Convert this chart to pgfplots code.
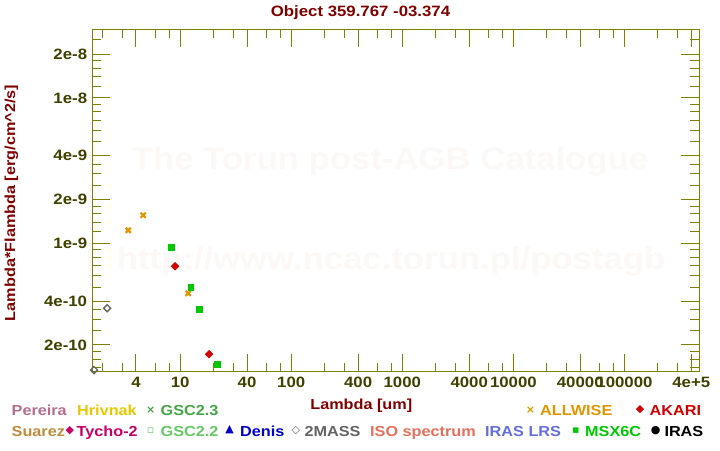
\documentclass[border=0pt]{standalone}
\usepackage{fontspec}
\setmainfont{Liberation Sans}[FakeStretch=1.12]
\newfontfamily\symfont{DejaVu Sans}
\usepackage{pgfplots}
\pgfplotsset{compat=1.18}
\definecolor{axcol}{RGB}{128,128,0}
\definecolor{tickcol}{RGB}{64,64,0}
\definecolor{titlecol}{RGB}{128,0,0}
\definecolor{wmcol}{RGB}{251,248,245}
\definecolor{cPereira}{RGB}{180,110,140}
\definecolor{cHrivnak}{RGB}{230,200,0}
\definecolor{cGSCa}{RGB}{70,165,70}
\definecolor{cSuarez}{RGB}{190,140,60}
\definecolor{cTycho}{RGB}{200,0,100}
\definecolor{cGSCb}{RGB}{100,200,100}
\definecolor{cDenis}{RGB}{0,0,200}
\definecolor{cTwoMASS}{RGB}{100,100,100}
\definecolor{cISO}{RGB}{230,110,90}
\definecolor{cLRS}{RGB}{100,110,220}
\definecolor{cMSX}{RGB}{0,200,0}
\definecolor{cIRAS}{RGB}{0,0,0}
\definecolor{cALLWISE}{RGB}{224,150,0}
\definecolor{cAKARI}{RGB}{210,0,0}
\newcommand\lf{\fontsize{14.5}{14.5}\selectfont\bfseries}
\newcommand\symf{\fontsize{11}{11}\selectfont\symfont}
\begin{document}
\begin{tikzpicture}
\path[use as bounding box] (0pt,0pt) rectangle (720pt,450pt);
% watermark
\node[text=wmcol, font=\fontsize{31}{31}\selectfont\bfseries] at (390pt,288pt) {The Torun post-AGB Catalogue};
\node[text=wmcol, font=\fontsize{31}{31}\selectfont\bfseries] at (391pt,188pt) {http://www.ncac.torun.pl/postagb};
\begin{axis}[
  at={(92.3pt,78.3pt)}, anchor=south west, scale only axis,
  width=607pt, height=342.4pt,
  xmode=log, ymode=log,
  xmin=1.617, xmax=4.72e5, ymin=1.31e-10, ymax=2.96e-8,
  axis line style={axcol, line width=1pt},
  tick style={axcol, line width=1pt},
  tick align=inside, major tick length=18pt, minor tick length=9pt,
  xtick={4,10,40,100,400,1000,4000,10000,40000,100000,400000},
  xticklabels={4,10,40,100,400,1000,4000,10000,40000,100000,4e+5},
  minor xtick={2,3,6,8,20,30,60,80,200,300,600,800,2000,3000,6000,8000,20000,30000,60000,80000,200000,300000},
  ytick={2e-10,4e-10,1e-9,2e-9,4e-9,1e-8,2e-8},
  yticklabels={2e-10,4e-10,1e-9,2e-9,4e-9,1e-8,2e-8},
  minor ytick={1.4e-10,1.6e-10,1.8e-10,2.5e-10,3e-10,3.5e-10,5e-10,6e-10,7e-10,8e-10,9e-10,1.2e-9,1.4e-9,1.6e-9,1.8e-9,2.5e-9,3e-9,3.5e-9,5e-9,6e-9,7e-9,8e-9,9e-9,1.2e-8,1.4e-8,1.6e-8,1.8e-8,2.5e-8},
  ticklabel style={font=\fontsize{15}{15}\selectfont\bfseries, text=tickcol, inner sep=0pt},
  xticklabel style={anchor=north, yshift=-5.5pt},
  yticklabel style={anchor=east, xshift=-5pt},
  clip=false,
]
% ALLWISE
\addplot[only marks, mark=x, mark size=3.6pt, color=cALLWISE, mark options={line width=2.2pt}]
  coordinates {(3.41,1.23e-9) (4.64,1.56e-9) (11.8,4.53e-10)};
% MSX6C
\addplot[only marks, mark=square*, mark size=2.9pt, color=cMSX, mark options={line width=0.3pt}]
  coordinates {(8.3,9.39e-10) (12.4,4.99e-10) (14.8,3.52e-10) (21.5,1.47e-10)};
% AKARI
\addplot[only marks, mark=square*, mark size=2.8pt, color=cAKARI, mark options={rotate=45, line width=0.3pt}]
  coordinates {(9.0,6.95e-10) (18.2,1.73e-10)};
% 2MASS
\addplot[only marks, mark=square, mark size=2.5pt, color=cTwoMASS, mark options={rotate=45, line width=1.3pt}]
  coordinates {(2.20,3.58e-10) (1.675,1.345e-10)};
\end{axis}
% title and axis labels
\node[anchor=base, text=titlecol, font=\fontsize{15}{15}\selectfont\bfseries] at (360.5pt,433.5pt) {Object 359.767 -03.374};
\node[anchor=base, text=titlecol, font=\lf] at (361.3pt,40.7pt) {Lambda [um]};
\node[anchor=base, rotate=90, text=titlecol, font=\lf] at (15pt,247pt) {Lambda*Flambda [erg/cm\textasciicircum 2/s]};
% legend row 1
\node[anchor=base west, inner sep=0pt, text=cPereira, font=\lf] at (11.5pt,34.3pt) {Pereira};
\node[anchor=base west, inner sep=0pt, text=cHrivnak, font=\lf] at (77pt,34.3pt) {Hrivnak};
\node[inner sep=0pt, text=cGSCa, font=\symf\bfseries] at (150.7pt,39.7pt) {×};
\node[anchor=base west, inner sep=0pt, text=cGSCa, font=\lf] at (160.5pt,34.3pt) {GSC2.3};
\node[inner sep=0pt, text=cALLWISE, font=\symf\bfseries] at (530.5pt,39.7pt) {×};
\node[anchor=base west, inner sep=0pt, text=cALLWISE, font=\lf] at (540pt,34.3pt) {ALLWISE};
\node[inner sep=0pt, text=cAKARI, font=\symf] at (640pt,40pt) {◆};
\node[anchor=base west, inner sep=0pt, text=cAKARI, font=\lf] at (649.5pt,34.3pt) {AKARI};
% legend row 2
\node[anchor=base west, inner sep=0pt, text=cSuarez, font=\lf] at (11.5pt,14pt) {Suarez};
\node[inner sep=0pt, text=cTycho, font=\symf] at (69.8pt,19.5pt) {◆};
\node[anchor=base west, inner sep=0pt, text=cTycho, font=\lf] at (76.5pt,14pt) {Tycho-2};
\node[inner sep=0pt, text=cGSCb, font=\symf\bfseries] at (150.7pt,19.5pt) {▫};
\node[anchor=base west, inner sep=0pt, text=cGSCb, font=\lf] at (160.5pt,14pt) {GSC2.2};
\node[inner sep=0pt, text=cDenis, font=\symf] at (229.7pt,20pt) {▲};
\node[anchor=base west, inner sep=0pt, text=cDenis, font=\lf] at (240pt,14pt) {Denis};
\node[inner sep=0pt, text=cTwoMASS, font=\symf\bfseries] at (295.8pt,19.5pt) {◇};
\node[anchor=base west, inner sep=0pt, text=cTwoMASS, font=\lf] at (304.3pt,14pt) {2MASS};
\node[anchor=base west, inner sep=0pt, text=cISO, font=\lf] at (370pt,14pt) {ISO spectrum};
\node[anchor=base west, inner sep=0pt, text=cLRS, font=\lf] at (485pt,14pt) {IRAS LRS};
\node[inner sep=0pt, text=cMSX, font=\symf] at (575.8pt,19.5pt) {▪};
\node[anchor=base west, inner sep=0pt, text=cMSX, font=\lf] at (585pt,14pt) {MSX6C};
\node[inner sep=0pt, text=cIRAS, font=\symf] at (655.7pt,19.5pt) {●};
\node[anchor=base west, inner sep=0pt, text=cIRAS, font=\lf] at (664.3pt,14pt) {IRAS};
\end{tikzpicture}
\end{document}
